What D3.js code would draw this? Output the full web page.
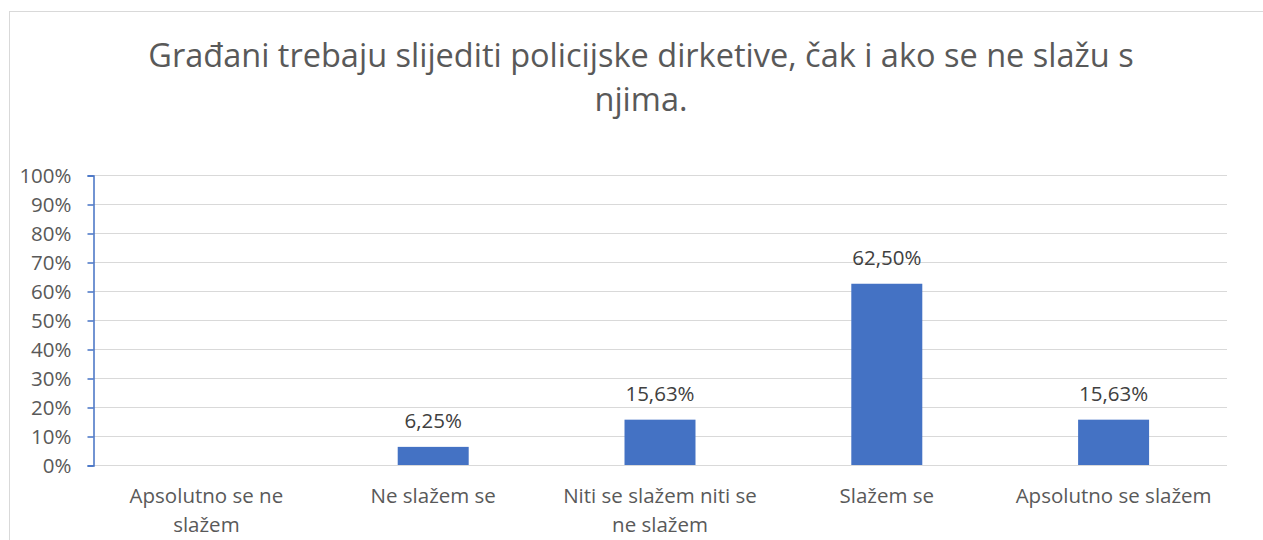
<!DOCTYPE html>
<html lang="hr">
<head>
<meta charset="utf-8"/>
<title>Građani trebaju slijediti policijske dirketive</title>
<script src="https://cdn.jsdelivr.net/npm/d3@7/dist/d3.min.js"></script>
<style>
  html, body { margin:0; padding:0; background:#fff; overflow:hidden; }
  svg { display:block; font-family:"Open Sans", sans-serif; }
</style>
</head>
<body>
<svg width="1263" height="540"></svg>
<script>
// podaci
const titleLines = ["Građani trebaju slijediti policijske dirketive, čak i ako se ne slažu s", "njima."];
const categories = ["Apsolutno se ne slažem", "Ne slažem se", "Niti se slažem niti se ne slažem", "Slažem se", "Apsolutno se slažem"];
const values     = [0, 6.25, 15.63, 62.50, 15.63];
const valueLabels = ["", "6,25%", "15,63%", "62,50%", "15,63%"];
const yTicks     = [0, 10, 20, 30, 40, 50, 60, 70, 80, 90, 100];

const svg = d3.select("svg");
const W = 1263, H = 540;
const m = {left:93, right:36, top:175, bottom:75};

// okvir grafikona
svg.append("rect")
  .attr("x", 9.5).attr("y", 11.5)
  .attr("width", 1400).attr("height", 700)
  .attr("fill", "#fff").attr("stroke", "#d9d9d9");

// naslov
svg.append("text")
  .attr("text-anchor", "middle")
  .attr("fill", "#595959")
  .style("font-size", "32.5px")
  .selectAll("tspan")
  .data(titleLines)
  .join("tspan")
    .attr("x", 641)
    .attr("y", (d, i) => 67 + i * 44)
    .text(d => d);

const x = d3.scaleBand().domain(categories).range([m.left, W - m.right]).padding(0);
const y = d3.scaleLinear().domain([0, 100]).range([H - m.bottom, m.top]);

// mreža
svg.append("g")
  .selectAll("line")
  .data(yTicks)
  .join("line")
    .attr("x1", m.left).attr("x2", W - m.right)
    .attr("y1", d => Math.round(y(d)) + 0.5)
    .attr("y2", d => Math.round(y(d)) + 0.5)
    .attr("stroke", "#d9d9d9").attr("stroke-width", 1);

// y os
const yAxis = svg.append("g")
  .attr("transform", `translate(${m.left + 0.5},0.5)`)
  .call(d3.axisLeft(y).tickValues(yTicks).tickSize(6).tickPadding(16).tickFormat(d => d + "%"));
yAxis.select(".domain").attr("stroke", "#4472c4").attr("stroke-width", 1.5);
yAxis.selectAll(".tick line").attr("stroke", "#4472c4").attr("stroke-width", 1.5);
yAxis.selectAll("text")
  .attr("fill", "#595959")
  .style("font-size", "20.5px")
  .style("font-family", "'Open Sans', sans-serif");

// stupci
const bw = x.bandwidth() * 0.313;
svg.append("g")
  .selectAll("rect")
  .data(values)
  .join("rect")
    .attr("x", (d, i) => x(categories[i]) + (x.bandwidth() - bw) / 2)
    .attr("y", d => y(d))
    .attr("width", bw)
    .attr("height", d => y(0) - y(d))
    .attr("fill", "#4472c4");

// oznake vrijednosti
svg.append("g")
  .selectAll("text")
  .data(values)
  .join("text")
    .attr("x", (d, i) => x(categories[i]) + x.bandwidth() / 2)
    .attr("y", d => y(d) - 19)
    .attr("text-anchor", "middle")
    .attr("fill", "#404040")
    .style("font-size", "20.5px")
    .text((d, i) => valueLabels[i]);

// oznake kategorija (prelamanje)
const catG = svg.append("g");
categories.forEach(c => {
  const t = catG.append("text")
    .attr("text-anchor", "middle")
    .attr("fill", "#595959")
    .style("font-size", "20.5px");
  const cx = x(c) + x.bandwidth() / 2;
  const maxW = x.bandwidth() * 0.93;
  const words = c.split(" ");
  let line = [], lineNo = 0;
  let ts = t.append("tspan").attr("x", cx).attr("y", 503);
  words.forEach(w => {
    line.push(w);
    ts.text(line.join(" "));
    if (ts.node().getComputedTextLength() > maxW && line.length > 1) {
      line.pop();
      ts.text(line.join(" "));
      line = [w];
      lineNo++;
      ts = t.append("tspan").attr("x", cx).attr("y", 503 + lineNo * 29).text(w);
    }
  });
});
</script>
</body>
</html>
